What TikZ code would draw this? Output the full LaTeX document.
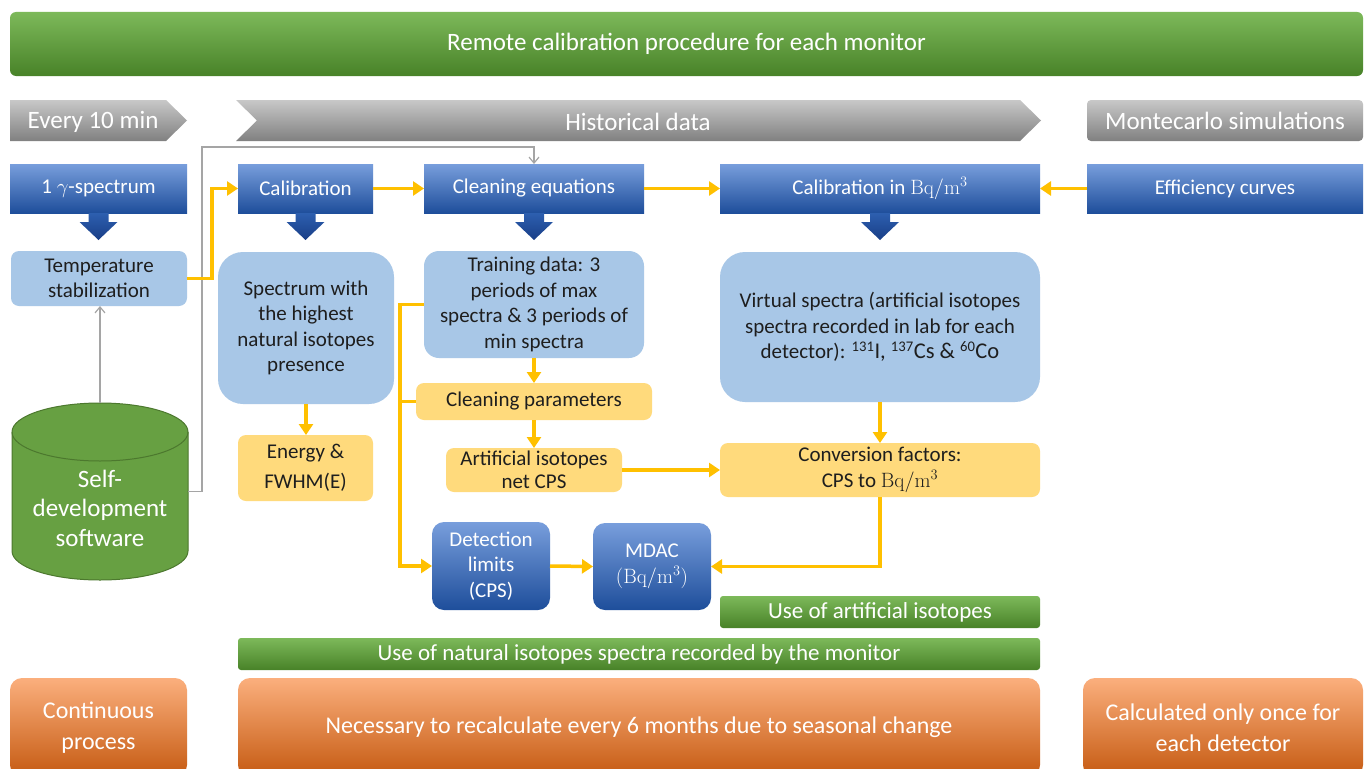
\documentclass[tikz,border=0pt]{standalone}
\usepackage[no-math]{fontspec}
\setmainfont{Carlito}
\usetikzlibrary{arrows.meta,calc}
\definecolor{gtop}{RGB}{125,185,90}
\definecolor{gbot}{RGB}{72,130,40}
\definecolor{graytop}{RGB}{200,200,200}
\definecolor{graybot}{RGB}{128,128,128}
\definecolor{btop}{RGB}{120,158,220}
\definecolor{bbot}{RGB}{30,78,155}
\definecolor{dbtop}{RGB}{45,95,175}
\definecolor{dbbot}{RGB}{25,62,135}
\definecolor{lblue}{RGB}{168,199,231}
\definecolor{lyel}{RGB}{255,218,124}
\definecolor{oline}{RGB}{255,192,0}
\definecolor{otop}{RGB}{251,175,125}
\definecolor{obot}{RGB}{197,90,17}
\definecolor{cylg}{RGB}{103,160,66}
\definecolor{cyld}{RGB}{76,120,46}
\definecolor{glink}{RGB}{165,165,165}
\definecolor{txt}{RGB}{30,30,30}
\newcommand\downblock[1]{\shade[top color=dbtop,bottom color=dbbot] ($(#1.south)+(-10,0)$) -- ++(20,0) -- ++(0,9) -- ++(9,0) -- ++(-19,18) -- ++(-19,-18) -- ++(9,0) -- cycle;}
\newcommand\bqm{$\mathrm{Bq/m^3}$}
\tikzset{
 base/.style={inner sep=0pt, outer sep=0pt, align=center},
 banner/.style={base, top color=gtop, bottom color=gbot, rounded corners=6pt, text=white, font=\fontsize{25}{30}\selectfont},
 graytext/.style={base, text=white, font=\fontsize{25}{30}\selectfont},
 bluebox/.style={base, top color=btop, bottom color=bbot, text=white, font=\fontsize{21}{25.5}\selectfont},
 lbbox/.style={base, fill=lblue, text=txt, font=\fontsize{21}{25.5}\selectfont},
 ybox/.style={base, fill=lyel, rounded corners=8pt, text=txt, font=\fontsize{21}{25.5}\selectfont},
 dbbox/.style={base, top color=btop, bottom color=bbot, rounded corners=12pt, text=white, font=\fontsize{21}{25.5}\selectfont},
 obox/.style={base, top color=otop, bottom color=obot, rounded corners=12pt, text=white, font=\fontsize{24}{31}\selectfont},
 grbar/.style={base, top color=gtop, bottom color=gbot, rounded corners=3pt, text=white, font=\fontsize{23}{28}\selectfont},
 olink/.style={draw=oline, line width=3.5pt, -{Triangle[length=11pt,width=14pt]}},
 oplain/.style={draw=oline, line width=3.5pt},
 glinkst/.style={draw=glink, line width=1.2pt},
 garrow/.style={glinkst, -{Straight Barb[length=6pt,width=10pt]}},
}
\begin{document}
\begin{tikzpicture}[x=1pt,y=-1pt]
\useasboundingbox[fill=white] (0,0) rectangle (1370,768);
% title
\node[banner, minimum width=1353pt, minimum height=64pt] (title) at (686.5,44) {Remote calibration procedure for each monitor};
% chevrons
\shade[top color=graytop,bottom color=graybot] (10,100) -- (166,100) -- (187,120.5) -- (166,141) -- (10,141) -- cycle;
\node[graytext] (every) at (93,121.5) {Every 10 min};
\shade[top color=graytop,bottom color=graybot] (236,100) -- (1020,100) -- (1041,120.5) -- (1020,141) -- (236,141) -- (257,120.5) -- cycle;
\node[graytext] (hist) at (638,121.5) {Historical data};
\node[graytext, top color=graytop, bottom color=graybot, rounded corners=4pt, minimum width=276pt, minimum height=41pt] (mont) at (1225,120.5) {Montecarlo simulations};
% blue row
\node[bluebox, minimum width=177pt, minimum height=49pt] (gspec) at (98.5,188.5) {1 $\gamma$-spectrum};
\node[bluebox, minimum width=135pt, minimum height=49pt] (cal) at (305.5,188.5) {Calibration};
\node[bluebox, minimum width=220pt, minimum height=49pt] (clean) at (534,188.5) {Cleaning equations};
\node[bluebox, minimum width=320pt, minimum height=49pt] (calbq) at (880,188.5) {Calibration in \bqm};
\node[bluebox, minimum width=276pt, minimum height=49pt] (eff) at (1225,188.5) {Efficiency curves};
\downblock{gspec}
\downblock{cal}
\downblock{clean}
\downblock{calbq}
% light blue
\node[lbbox, rounded corners=8pt, minimum width=176pt, minimum height=55pt] (temp) at (99,278.5) {Temperature\\stabilization};
\node[lbbox, rounded corners=25pt, minimum width=176pt, minimum height=152pt] (spec) at (306,328) {Spectrum with\\the highest\\natural isotopes\\presence};
\node[lbbox, rounded corners=15pt, minimum width=220pt, minimum height=107pt] (train) at (534,304.5) {Training data: 3\\periods of max\\spectra \& 3 periods of\\min spectra};
\node[lbbox, rounded corners=25pt, minimum width=320pt, minimum height=150pt] (virt) at (880,327) {Virtual spectra (artificial isotopes\\spectra recorded in lab for each\\detector): \textsuperscript{131}{\fontsize{22.5}{25.5}\selectfont I, }\textsuperscript{137}{\fontsize{22.5}{25.5}\selectfont Cs \& }\textsuperscript{60}{\fontsize{22.5}{25.5}\selectfont Co}};
% yellow
\node[ybox, minimum width=135pt, minimum height=66pt, font=\fontsize{21}{30}\selectfont] (energy) at (305.5,468) {Energy \&\\FWHM(E)};
\node[ybox, minimum width=236pt, minimum height=37pt] (cparam) at (534,401.5) {Cleaning parameters};
\node[ybox, minimum width=176pt, minimum height=44pt, font=\fontsize{21}{22.5}\selectfont] (artif) at (534,470) {Artificial isotopes\\net CPS};
\node[ybox, minimum width=320pt, minimum height=54pt] (conv) at (880,470) {Conversion factors:\\CPS to \bqm};
% dark blue
\node[dbbox, minimum width=118pt, minimum height=88pt] (det) at (491,566) {Detection\\limits\\(CPS)};
\node[dbbox, minimum width=118pt, minimum height=87pt] (mdac) at (652,566.5) {MDAC\\$(\mathrm{Bq/m^3})$};
% green bars
\node[grbar, minimum width=320pt, minimum height=32pt] (useart) at (880,612) {Use of artificial isotopes};
\node[grbar, minimum width=802pt, minimum height=32pt] (usenat) at (639,654) {Use of natural isotopes spectra recorded by the monitor};
% orange
\begin{scope}
\clip (0,0) rectangle (1370,768);
\node[obox, anchor=north, minimum width=177pt, minimum height=99pt] (cont) at (98.5,678) {Continuous\\process};
\node[obox, anchor=north, minimum width=802pt, minimum height=99pt] (nec) at (639,678) {Necessary to recalculate every 6 months due to seasonal change};
\node[obox, anchor=north, minimum width=280pt, minimum height=99pt] (once) at (1223,678) {Calculated only once for\\each detector};
\end{scope}
% cylinder
\node[base, minimum width=176pt, minimum height=177pt] (cyl) at (100,491.5) {};
\filldraw[fill=cylg, draw=cyld, line width=1pt] (12,432) -- (12,551) arc[start angle=180,end angle=0,x radius=88,y radius=29] -- (188,432) arc[start angle=0,end angle=-180,x radius=88,y radius=29] -- cycle;
\draw[cyld, line width=1pt] (12,432) arc[start angle=180,end angle=0,x radius=88,y radius=29];
\node[base, text=white, font=\fontsize{25}{29.5}\selectfont] (cyltext) at (100,508) {Self-\\development\\software};
% gray connectors
\draw[garrow] (cyl.north) -- (cyl.north |- temp.south);
\draw[garrow] (cyl.east) -| (202,147) -| (clean.north);
% orange connectors
\draw[olink] (temp.east) -- ++(25,0) |- (cal.west);
\draw[olink] (cal.east) -- (clean.west);
\draw[olink] (clean.east) -- (calbq.west);
\draw[olink] (eff.west) -- (calbq.east);
\draw[olink] (train.south) -- (cparam.north);
\draw[olink] (cparam.south) -- (artif.north);
\draw[olink] (artif.east) -- (conv.west |- artif.east);
\draw[olink] (virt.south) -- (conv.north);
\draw[olink] (conv.south) |- (mdac.east);
\draw[olink] (det.east) -- (mdac.west);
\draw[olink] (spec.south) -- (spec.south |- energy.north);
\draw[olink] (train.west) -- ++(-24,0) |- (det.west);
\draw[oplain] (cparam.west) -- ++(-17.5,0);
\end{tikzpicture}
\end{document}
